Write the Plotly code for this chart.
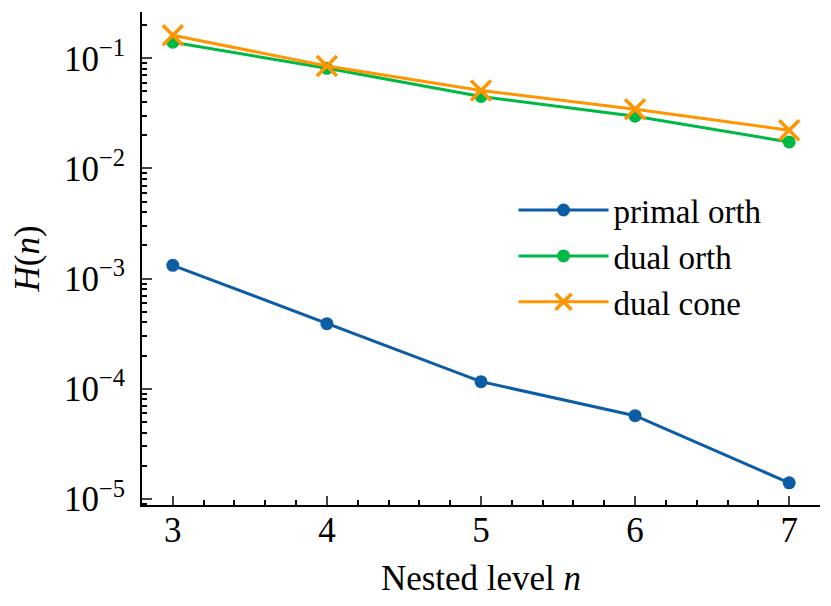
import plotly.graph_objects as go

levels = [3, 4, 5, 6, 7]
primal_orth = [1.32e-3, 3.9e-4, 1.16e-4, 5.7e-5, 1.4e-5]
dual_orth = [0.140, 0.081, 0.045, 0.0298, 0.0174]
dual_cone = [0.162, 0.085, 0.051, 0.0345, 0.0222]

ytick_vals = [1e-5, 1e-4, 1e-3, 1e-2, 1e-1]
ytick_text = ["10<sup>−5</sup>", "10<sup>−4</sup>", "10<sup>−3</sup>", "10<sup>−2</sup>", "10<sup>−1</sup>"]
yminor_vals = [m * 10.0 ** e for e in range(-6, 0) for m in range(2, 10)]

BLUE = "#0C5DA5"
GREEN = "#00B945"
ORANGE = "#FF9500"
FONT = "Liberation Serif"
FS = 35

fig = go.Figure()
fig.add_trace(go.Scatter(x=levels, y=primal_orth, name="primal orth", mode="lines+markers",
                         line=dict(color=BLUE, width=3), marker=dict(symbol="circle", size=13, color=BLUE)))
fig.add_trace(go.Scatter(x=levels, y=dual_orth, name="dual orth", mode="lines+markers",
                         line=dict(color=GREEN, width=3), marker=dict(symbol="circle", size=13, color=GREEN)))
fig.add_trace(go.Scatter(x=levels, y=dual_cone, name="dual cone", mode="lines+markers",
                         line=dict(color=ORANGE, width=3),
                         marker=dict(symbol="x-thin", size=20, color=ORANGE, line=dict(color=ORANGE, width=3.5))))

fig.update_layout(
    width=823, height=598,
    margin=dict(l=134, r=11, t=4, b=101),
    paper_bgcolor="white", plot_bgcolor="white",
    font=dict(family=FONT, size=FS, color="black"),
    showlegend=True,
    legend=dict(x=0.548, y=0.505, xanchor="left", yanchor="middle", bgcolor="rgba(0,0,0,0)",
                font=dict(family=FONT, size=33), tracegroupgap=0, itemwidth=90),
    xaxis=dict(range=[2.8, 7.2], tickvals=levels, ticks="inside", ticklen=9, tickwidth=2,
               showline=True, linecolor="black", linewidth=2, showgrid=False, zeroline=False,
               automargin=False, ticklabelstandoff=-7,
               minor=dict(dtick=0.2, tick0=3, ticks="inside", ticklen=5, tickwidth=2, tickcolor="black", showgrid=False),
               title=dict(text="Nested level <i>n</i>", font=dict(size=FS), standoff=16),
               tickfont=dict(size=FS), mirror=False),
    yaxis=dict(type="log", range=[-5.055, -0.58], tickmode="array", tickvals=ytick_vals, ticktext=ytick_text,
               ticks="inside", ticklen=10, tickwidth=2, automargin=False, ticklabelstandoff=8,
               showline=True, linecolor="black", linewidth=2, showgrid=False, zeroline=False,
               minor=dict(tickmode="array", tickvals=yminor_vals, ticks="inside", ticklen=5, tickwidth=2,
                          tickcolor="black", showgrid=False),
               title=dict(text="<i>H</i>(<i>n</i>)", font=dict(size=FS), standoff=20),
               tickfont=dict(size=FS)),
)

fig.write_html("out.html")
